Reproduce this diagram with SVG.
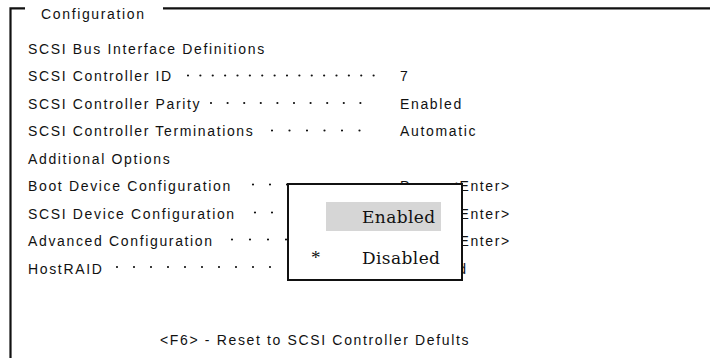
<svg xmlns="http://www.w3.org/2000/svg" width="710" height="358" viewBox="0 0 710 358">
<style>
.t{font-family:"Liberation Sans",Arial,sans-serif;font-size:14px;letter-spacing:1.65px;fill:#111}
.s{font-family:"DejaVu Serif","Liberation Serif",serif;font-size:17px;letter-spacing:0.4px;fill:#111}
.dot{stroke:#111;stroke-width:2.2;stroke-linecap:round;fill:none}
.frame{stroke:#111;stroke-width:2.2;fill:none}
</style>
<rect width="710" height="358" fill="#fff"/>
<g id="frame">
<path class="frame" d="M25 8.3 H10.5 V358 M163 8.3 H710"/>
<text class="t" x="41" y="19">Configuration</text>
</g>
<g id="connectors">
<line class="dot" x1="188" y1="75.5" x2="386" y2="75.5" stroke-dasharray="0 12.375"/>
<line class="dot" x1="211" y1="103" x2="377" y2="103" stroke-dasharray="0 16.6"/>
<line class="dot" x1="272" y1="130.5" x2="377" y2="130.5" stroke-dasharray="0 17.5"/>
<line class="dot" x1="253" y1="184.5" x2="390" y2="184.5" stroke-dasharray="0 17"/>
<line class="dot" x1="255" y1="212.5" x2="390" y2="212.5" stroke-dasharray="0 17"/>
<line class="dot" x1="232" y1="239.5" x2="390" y2="239.5" stroke-dasharray="0 18"/>
<line class="dot" x1="117" y1="267" x2="287" y2="267" stroke-dasharray="0 17"/>
</g>
<g id="rows">
<text class="t" x="28" y="53.5">SCSI Bus Interface Definitions</text>
<text class="t" x="28" y="81">SCSI Controller ID</text>
<text class="t" x="400" y="81">7</text>
<text class="t" x="28" y="108.5">SCSI Controller Parity</text>
<text class="t" x="400" y="108.5">Enabled</text>
<text class="t" x="28" y="136">SCSI Controller Terminations</text>
<text class="t" x="400" y="136">Automatic</text>
<text class="t" x="28" y="163.5">Additional Options</text>
<text class="t" x="28" y="191">Boot Device Configuration</text>
<text class="t" x="400" y="191">Press &lt;Enter&gt;</text>
<text class="t" x="28" y="218.5">SCSI Device Configuration</text>
<text class="t" x="400" y="218.5">Press &lt;Enter&gt;</text>
<text class="t" x="28" y="246">Advanced Configuration</text>
<text class="t" x="400" y="246">Press &lt;Enter&gt;</text>
<text class="t" x="28" y="273.5">HostRAID</text>
<text class="t" x="400" y="273.5">Disabled</text>
</g>
<g id="popup">
<rect x="288" y="184" width="174" height="96" fill="#fff" stroke="#111" stroke-width="2"/>
<rect x="326" y="202" width="115" height="29" fill="#d6d6d6"/>
<text class="s" x="362" y="223">Enabled</text>
<text class="s" x="311" y="264" style="font-family:'Liberation Serif',serif;font-size:19px">*</text>
<text class="s" x="362" y="264">Disabled</text>
</g>
<g id="footer">
<text class="t" x="160" y="345">&lt;F6&gt; - Reset to SCSI Controller Defults</text>
</g>
</svg>
